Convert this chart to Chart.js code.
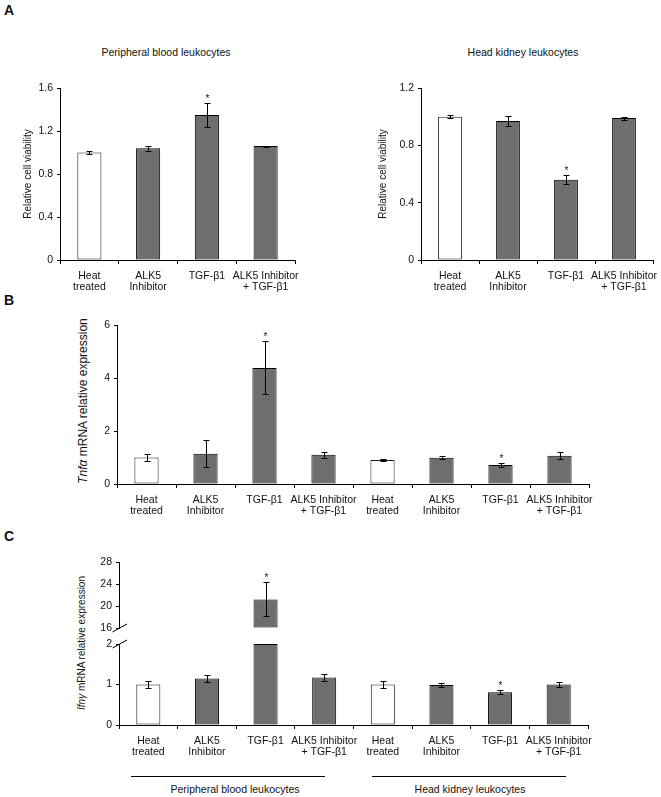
<!DOCTYPE html>
<html>
<head>
<meta charset="utf-8">
<script src="https://cdn.jsdelivr.net/npm/chart.js@4.4.1/dist/chart.umd.min.js"></script>
<style>
  html, body { margin: 0; padding: 0; background: #fff; }
  body { width: 661px; height: 797px; position: relative; overflow: hidden; font-family: Arial, "Liberation Sans", sans-serif; color: #111; }
  .box { position: absolute; }
  .box canvas { display: block; }
  .txt { position: absolute; white-space: nowrap; transform: translate(-50%, -50%); font-size: 10.5px; line-height: 12px; }
  .panel { position: absolute; font-weight: bold; font-size: 14px; line-height: 14px; }
  .ytitle { position: absolute; white-space: nowrap; transform: translate(-50%, -50%) rotate(-90deg); line-height: 1; }
  .rule { position: absolute; height: 1px; background: #000; }
</style>
</head>
<body>
<div class="panel" style="left:4px;top:3px">A</div>
<div class="panel" style="left:4px;top:293px">B</div>
<div class="panel" style="left:4px;top:529px">C</div>

<div class="txt" style="left:166px;top:52px">Peripheral blood leukocytes</div>
<div class="txt" style="left:523px;top:52px">Head kidney leukocytes</div>

<div class="ytitle" style="left:83px;top:401px;font-size:12px"><i>Tnf&alpha;</i> mRNA relative expression</div>
<div class="ytitle" style="left:82px;top:643px;font-size:10px"><i>Ifn&gamma;</i> mRNA relative expression</div>

<div class="rule" style="left:131px;top:776px;width:194px"></div>
<div class="rule" style="left:372px;top:776px;width:194px"></div>
<div class="txt" style="left:235px;top:789px">Peripheral blood leukocytes</div>
<div class="txt" style="left:470px;top:789px">Head kidney leukocytes</div>

<script>
// treatments (x categories)
const categories = [["Heat", "treated"], ["ALK5", "Inhibitor"], "TGF-β1", ["ALK5 Inhibitor", "+ TGF-β1"]];

// A: relative cell viability
const pblViability = [1.0, 1.04, 1.35, 1.06];
const pblViabilityErr = [0.01, 0.025, 0.11, 0.005];
const pblViabilitySig = [false, false, true, false];
const hklViability = [1.0, 0.97, 0.56, 0.99];
const hklViabilityErr = [0.012, 0.035, 0.03, 0.01];
const hklViabilitySig = [false, false, true, false];

// B: Tnfa (first 4 = peripheral blood, last 4 = head kidney)
const tnfa = [1.0, 1.14, 4.38, 1.10, 0.91, 0.99, 0.72, 1.07];
const tnfaErr = [0.15, 0.51, 1.0, 0.11, 0.03, 0.06, 0.09, 0.14];
const tnfaSig = [false, false, true, false, false, false, true, false];

// C: Ifng (broken axis)
const ifng = [1.0, 1.15, 21.2, 1.17, 1.0, 0.99, 0.81, 1.0];
const ifngErr = [0.08, 0.09, 3.1, 0.09, 0.08, 0.05, 0.05, 0.05];
const ifngSig = [false, false, true, false, false, false, true, false];

// axis ranges [min, max, step]
const pblTicks = [0, 1.6, 0.4];
const hklTicks = [0, 1.2, 0.4];
const tnfaTicks = [0, 6, 2];
const ifngLowTicks = [0, 2, 1];
const ifngHighTicks = [16, 28, 4];

Chart.defaults.font.family = 'Arial, "Liberation Sans", sans-serif';
Chart.defaults.font.size = 10.5;
Chart.defaults.color = '#111';
Chart.defaults.animation = false;

const errorBars = {
  id: 'errorBars',
  afterDatasetsDraw(chart) {
    const ds = chart.data.datasets[0];
    const meta = chart.getDatasetMeta(0);
    const y = chart.scales.y;
    const ctx = chart.ctx;
    ctx.save();
    ctx.strokeStyle = '#000';
    ctx.fillStyle = '#111';
    ctx.lineWidth = 1;
    ctx.font = '10px Arial, "Liberation Sans", sans-serif';
    ctx.textAlign = 'center';
    ctx.textBaseline = 'alphabetic';
    meta.data.forEach((bar, i) => {
      const v = ds.raw[i], e = ds.errors[i];
      if (v == null || v > y.max || v < y.min) return;
      const x = Math.round(bar.x) + 0.5;
      const yt = Math.round(y.getPixelForValue(v + e)) + 0.5;
      const yb = Math.round(y.getPixelForValue(v - e)) + 0.5;
      ctx.beginPath();
      ctx.moveTo(x, yt); ctx.lineTo(x, yb);
      ctx.moveTo(x - 3, yt); ctx.lineTo(x + 3, yt);
      ctx.moveTo(x - 3, yb); ctx.lineTo(x + 3, yb);
      ctx.stroke();
      if (ds.sig[i]) ctx.fillText('*', x, yt - 2);
    });
    ctx.restore();
  }
};

const axisBreak = {
  id: 'axisBreak',
  afterDraw(chart, args, opts) {
    if (opts.at == null) return;
    const ctx = chart.ctx;
    const x = chart.chartArea.left;
    const y = chart.scales.y.getPixelForValue(opts.at);
    ctx.save();
    ctx.strokeStyle = '#000';
    ctx.lineWidth = 1;
    ctx.beginPath();
    ctx.moveTo(x - 6.5, y + 4);
    ctx.lineTo(x + 8, y - 4);
    ctx.stroke();
    ctx.restore();
  }
};

function makeChart(box, area, o) {
  const wrap = document.createElement('div');
  wrap.className = 'box';
  wrap.style.left = box.x + 'px';
  wrap.style.top = box.y + 'px';
  const cv = document.createElement('canvas');
  cv.width = box.w;
  cv.height = box.h;
  wrap.appendChild(cv);
  document.body.appendChild(wrap);

  const showX = o.showX !== false;
  const padLeft = o.padLeft || 0;
  const yWidth = area.l - box.x - padLeft;
  const xHeight = showX ? box.y + box.h - area.b : 0;
  const padBottom = showX ? 0 : box.y + box.h - area.b;
  const [yMin, yMax, yStep] = o.ticks;

  return new Chart(cv, {
    type: 'bar',
    data: {
      labels: o.labels,
      datasets: [{
        data: o.values,
        raw: o.raw,
        errors: o.errors,
        sig: o.sig,
        base: o.base,
        backgroundColor: o.labels.map((_, i) => i % 4 === 0 ? '#ffffff' : '#6e6e6e'),
        borderColor: o.labels.map((_, i) => i % 4 === 0 ? '#1a1a1a' : '#000'),
        borderWidth: 1,
        borderSkipped: false,
        barPercentage: 0.41,
        categoryPercentage: 1
      }]
    },
    options: {
      responsive: false,
      animation: false,
      layout: { padding: { left: padLeft, top: area.t - box.y, right: box.x + box.w - area.r, bottom: padBottom } },
      plugins: {
        legend: { display: false },
        tooltip: { enabled: false },
        axisBreak: { at: o.breakAt }
      },
      scales: {
        x: {
          display: showX,
          grid: { drawOnChartArea: false, drawTicks: true, tickLength: 4, offset: true, color: '#000' },
          border: { color: '#000' },
          ticks: { color: '#111', padding: 7, maxRotation: 0, autoSkip: false, font: { size: 10.5, lineHeight: 1.05 } },
          afterFit: s => { s.height = xHeight; s.paddingLeft = 0; s.paddingRight = 0; }
        },
        y: {
          min: yMin,
          max: yMax,
          ticks: { stepSize: yStep, padding: 4, color: '#111', font: { size: 10.5 } },
          grid: { drawOnChartArea: false, tickLength: 3, color: '#000' },
          border: { color: '#000' },
          title: o.yTitle ? { display: true, text: o.yTitle, color: '#111', font: { size: 10 }, padding: { top: 4, bottom: 4 } } : { display: false },
          afterFit: s => { s.width = yWidth; s.paddingTop = 0; s.paddingBottom = 0; }
        }
      }
    },
    plugins: [errorBars, axisBreak]
  });
}

// A left: peripheral blood leukocytes
makeChart({ x: 0, y: 70, w: 330, h: 232 }, { l: 60, t: 88, r: 295, b: 260 }, {
  labels: categories, values: pblViability, raw: pblViability, errors: pblViabilityErr, sig: pblViabilitySig,
  ticks: pblTicks, yTitle: 'Relative cell viability', padLeft: 18
});

// A right: head kidney leukocytes
makeChart({ x: 330, y: 70, w: 331, h: 232 }, { l: 421, t: 88, r: 653, b: 260 }, {
  labels: categories, values: hklViability, raw: hklViability, errors: hklViabilityErr, sig: hklViabilitySig,
  ticks: hklTicks, yTitle: 'Relative cell viability', padLeft: 43
});

// B: Tnfa
const allCategories = categories.concat(categories);
makeChart({ x: 0, y: 312, w: 661, h: 215 }, { l: 117, t: 325, r: 589, b: 484 }, {
  labels: allCategories, values: tnfa, raw: tnfa, errors: tnfaErr, sig: tnfaSig, ticks: tnfaTicks
});

// C upper segment (16-28)
makeChart({ x: 0, y: 550, w: 661, h: 85 }, { l: 119, t: 562, r: 588, b: 628 }, {
  labels: allCategories, values: ifng.map(v => v >= ifngHighTicks[0] ? v : null), raw: ifng,
  errors: ifngErr, sig: ifngSig, ticks: ifngHighTicks, base: ifngHighTicks[0], showX: false, breakAt: ifngHighTicks[0]
});

// C lower segment (0-2)
makeChart({ x: 0, y: 635, w: 661, h: 130 }, { l: 119, t: 644, r: 588, b: 725 }, {
  labels: allCategories, values: ifng.map(v => Math.min(v, ifngLowTicks[1])), raw: ifng,
  errors: ifngErr, sig: ifngSig, ticks: ifngLowTicks, breakAt: ifngLowTicks[1]
});
</script>
</body>
</html>
